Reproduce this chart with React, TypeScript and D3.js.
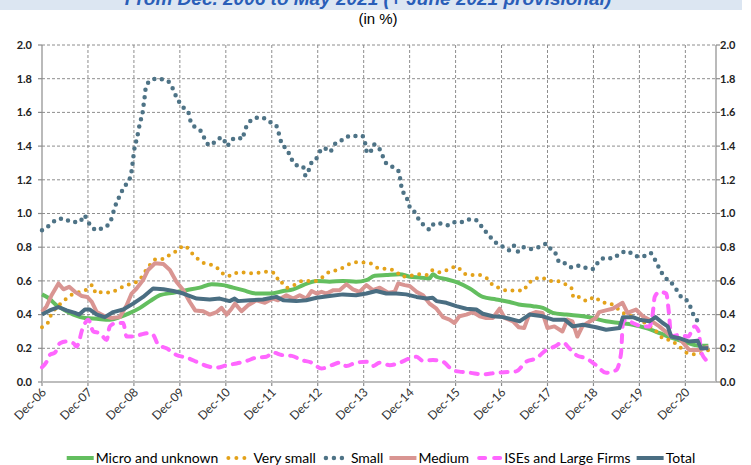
import React, { useEffect, useRef } from 'react';
import * as d3 from 'd3';

type Pt = [number, number]; // [months since Dec-06, rate in %]

const yearLabels = ['Dec-06', 'Dec-07', 'Dec-08', 'Dec-09', 'Dec-10', 'Dec-11', 'Dec-12', 'Dec-13', 'Dec-14', 'Dec-15', 'Dec-16', 'Dec-17', 'Dec-18', 'Dec-19', 'Dec-20'];
const yTicks = [0, 0.2, 0.4, 0.6, 0.8, 1.0, 1.2, 1.4, 1.6, 1.8, 2.0];

const microUnknown: Pt[] = [[0,0.52],[1.6,0.50],[3.8,0.455],[5.6,0.43],[8.2,0.40],[11.2,0.38],[14.3,0.375],[17.7,0.37],[20.3,0.385],[23,0.41],[25.6,0.44],[28.2,0.48],[30.8,0.515],[34.3,0.53],[37.7,0.545],[41.2,0.56],[44.3,0.58],[47.3,0.575],[49.9,0.56],[52.5,0.545],[56,0.525],[59.5,0.525],[63,0.54],[65.6,0.55],[68.2,0.575],[71.7,0.60],[75.1,0.595],[78.6,0.60],[82,0.595],[84.7,0.605],[86.9,0.63],[89.9,0.635],[93.4,0.64],[96,0.625],[98.6,0.62],[101.2,0.615],[102.1,0.64],[103,0.625],[105.6,0.61],[108.6,0.59],[111.7,0.555],[115.1,0.505],[118.6,0.49],[122.1,0.475],[124.5,0.46],[128.2,0.45],[130.8,0.44],[133.4,0.41],[136.9,0.40],[141.3,0.39],[143.8,0.38],[147.3,0.36],[150.8,0.35],[154.3,0.34],[157.8,0.32],[161.3,0.29],[164.7,0.26],[168.2,0.235],[171.7,0.215],[174,0.215]];

const verySmall: Pt[] = [[0,0.325],[1.5,0.35],[2.3,0.395],[3.7,0.44],[5.4,0.475],[7.1,0.51],[9.3,0.53],[11.4,0.545],[13.2,0.575],[14.1,0.525],[15.8,0.535],[17.9,0.53],[19.7,0.55],[22.1,0.575],[23.8,0.585],[25.6,0.61],[26.9,0.655],[28.2,0.695],[29.9,0.73],[31.7,0.73],[33.6,0.76],[35.4,0.78],[37.1,0.81],[38.9,0.77],[40.5,0.735],[42.3,0.705],[44.3,0.695],[46.4,0.665],[48,0.63],[49.4,0.63],[51.2,0.65],[53,0.65],[55.1,0.645],[57.2,0.65],[58.9,0.655],[61.1,0.64],[61.9,0.59],[62.6,0.59],[64,0.56],[66.3,0.58],[68,0.60],[69.5,0.60],[71.5,0.60],[73.4,0.625],[75.1,0.655],[77.3,0.665],[79.5,0.69],[81.4,0.71],[83.7,0.71],[85.7,0.705],[87.9,0.675],[90.1,0.67],[92.3,0.66],[94,0.625],[96,0.63],[98.3,0.64],[100.5,0.635],[102.1,0.665],[104.1,0.65],[106.3,0.67],[108.3,0.685],[110.1,0.645],[112.1,0.635],[114.1,0.635],[116.2,0.615],[117.7,0.575],[119.9,0.555],[121.7,0.54],[124,0.545],[125.6,0.54],[126.7,0.575],[128.2,0.605],[130.4,0.62],[132.3,0.60],[134.4,0.60],[136.2,0.585],[138.3,0.555],[138.8,0.50],[140.3,0.505],[142.3,0.48],[144.3,0.505],[146,0.475],[148.4,0.465],[150,0.44],[151.8,0.41],[154.5,0.385],[157.8,0.345],[160.4,0.30],[162.1,0.26],[164.3,0.245],[166.2,0.215],[168.2,0.175],[170.2,0.165],[172,0.17],[174,0.19]];

const small: Pt[] = [[0,0.90],[2,0.93],[3.6,0.96],[5.6,0.97],[7.7,0.95],[9.9,0.95],[11,0.99],[11.8,0.96],[13,0.92],[14.5,0.90],[15.7,0.915],[17.4,0.935],[18.3,0.98],[18.9,1.03],[19.8,1.08],[20.8,1.13],[22,1.175],[23.1,1.22],[23.5,1.27],[23.8,1.325],[24.1,1.38],[24.6,1.43],[25.1,1.48],[25.6,1.54],[26.2,1.59],[26.5,1.64],[26.8,1.69],[27.1,1.745],[28.4,1.79],[30.2,1.80],[32.3,1.79],[33.6,1.77],[34.5,1.72],[35.6,1.67],[36.9,1.63],[38.3,1.595],[38.9,1.54],[40.1,1.51],[41.8,1.48],[42.7,1.43],[44,1.405],[45.7,1.44],[47.3,1.45],[48.2,1.40],[49.7,1.44],[51.4,1.45],[52.3,1.44],[52.9,1.49],[53.9,1.535],[55.5,1.565],[57.4,1.57],[59.3,1.545],[61.2,1.52],[61.9,1.47],[62.6,1.415],[64,1.38],[65,1.33],[66.1,1.29],[68.2,1.275],[68.8,1.225],[69.4,1.235],[70,1.29],[71.5,1.32],[72.5,1.365],[73.6,1.39],[75.1,1.365],[76.4,1.41],[78,1.43],[79.5,1.455],[81.5,1.46],[83.7,1.46],[84.4,1.415],[84.9,1.36],[85.6,1.36],[86.6,1.41],[87.8,1.395],[88.8,1.35],[89.8,1.30],[91.6,1.275],[93.3,1.245],[93.6,1.19],[94.1,1.14],[95.2,1.095],[96,1.04],[97.4,1.005],[98.4,0.965],[100,0.925],[101.3,0.905],[102.4,0.94],[104,0.94],[106.1,0.93],[108,0.95],[110,0.95],[111.7,0.965],[113.4,0.96],[114.9,0.92],[116.3,0.88],[117.7,0.845],[119.5,0.81],[120.9,0.80],[122.3,0.78],[123.4,0.81],[124.3,0.775],[125.6,0.80],[127.6,0.79],[129.7,0.80],[131.8,0.82],[132.8,0.79],[134.3,0.755],[135.1,0.71],[136.5,0.705],[138.3,0.68],[140.3,0.69],[142.3,0.675],[144,0.67],[145.2,0.71],[146.9,0.735],[149.1,0.735],[151,0.765],[153,0.775],[154.6,0.75],[156.3,0.745],[157.8,0.75],[158.9,0.765],[160.2,0.72],[161.3,0.67],[162.5,0.625],[164.1,0.595],[165.6,0.55],[166.9,0.505],[168.7,0.475],[169.5,0.435],[170.4,0.385],[172.3,0.35]];

const medium: Pt[] = [[0,0.415],[1.2,0.45],[2.5,0.515],[4.3,0.585],[5.6,0.55],[7.1,0.565],[8.6,0.535],[10.4,0.51],[11.8,0.505],[13,0.475],[14.3,0.415],[16.4,0.39],[18.2,0.38],[20.3,0.385],[22.1,0.455],[23.4,0.525],[24.7,0.555],[26.4,0.605],[27.7,0.665],[29.5,0.705],[31.7,0.70],[33.4,0.665],[35.1,0.595],[36.9,0.545],[38.6,0.475],[40,0.425],[42.1,0.42],[43.8,0.40],[45.6,0.415],[46.9,0.44],[48.2,0.40],[49.5,0.435],[50.4,0.465],[52.1,0.42],[53.8,0.455],[56,0.485],[58.2,0.47],[60.3,0.495],[61.6,0.485],[63.8,0.515],[65.6,0.495],[67.3,0.515],[69,0.495],[70.4,0.54],[71.7,0.525],[73,0.535],[74.3,0.525],[76.1,0.545],[77.7,0.545],[79.5,0.58],[81.2,0.55],[82.9,0.535],[84.7,0.575],[86.4,0.545],[88.2,0.56],[90.4,0.53],[92.1,0.535],[93,0.585],[94.7,0.575],[96,0.57],[97.8,0.535],[99.5,0.515],[101.2,0.465],[103,0.435],[104.7,0.385],[106.4,0.37],[107.7,0.35],[109,0.39],[110.8,0.40],[112.5,0.415],[114.3,0.39],[116,0.38],[117.7,0.38],[119.5,0.435],[120.8,0.38],[123,0.36],[124.5,0.325],[125.9,0.32],[127.2,0.40],[128.9,0.415],[130.7,0.41],[132,0.32],[133.8,0.33],[135.9,0.30],[137.2,0.37],[138.5,0.36],[139.8,0.27],[141.1,0.33],[142.4,0.35],[144.6,0.38],[145.5,0.415],[147.2,0.425],[149,0.435],[151.6,0.47],[152.9,0.41],[155.1,0.43],[156.9,0.39],[158.6,0.37],[161.2,0.33],[163.8,0.28],[166.4,0.26],[169,0.19],[171.7,0.19],[174,0.21]];

const isesLarge: Pt[] = [[0,0.087],[1.2,0.12],[2,0.16],[3.4,0.175],[4.7,0.23],[6.4,0.24],[8.2,0.23],[9,0.21],[10.8,0.33],[12.1,0.37],[13.4,0.30],[15.1,0.29],[16.9,0.25],[17.7,0.33],[19.5,0.35],[21.2,0.35],[22.1,0.27],[23.8,0.27],[25.6,0.28],[27.7,0.29],[29,0.28],[30.4,0.22],[32.5,0.20],[35.1,0.16],[37.7,0.145],[40.4,0.12],[43,0.095],[45.6,0.085],[48.2,0.10],[50.8,0.11],[53.4,0.125],[56,0.145],[58.6,0.15],[60.3,0.175],[62.6,0.16],[65.2,0.155],[67.8,0.13],[70.4,0.115],[73,0.08],[75.7,0.10],[77.7,0.115],[79.5,0.095],[82,0.115],[84.7,0.12],[86.4,0.095],[88.2,0.115],[90.8,0.10],[93.4,0.115],[96,0.14],[97.8,0.15],[99.5,0.125],[102.1,0.13],[104.7,0.12],[107.3,0.07],[109.5,0.06],[111.7,0.055],[115.1,0.045],[118.6,0.055],[122.1,0.06],[123.8,0.063],[126.4,0.12],[129,0.14],[131.7,0.19],[133.8,0.21],[136,0.235],[137.7,0.20],[139.5,0.16],[142.1,0.14],[144.7,0.10],[147.3,0.055],[149.9,0.07],[151.2,0.17],[151.7,0.35],[152.5,0.37],[154.3,0.35],[156.9,0.33],[158.6,0.33],[159.5,0.41],[160,0.505],[161.3,0.535],[163,0.525],[163.7,0.41],[164.3,0.27],[166.4,0.28],[168.7,0.27],[170.4,0.33],[171.5,0.30],[172.1,0.18],[174,0.12]];

const total: Pt[] = [[0,0.40],[2,0.425],[4.3,0.445],[6.4,0.425],[8.6,0.41],[9.7,0.40],[11.2,0.43],[12.5,0.43],[14.3,0.40],[16.4,0.385],[18.6,0.415],[21.2,0.43],[23.8,0.465],[26.4,0.505],[29,0.555],[31.7,0.55],[34.3,0.54],[36.9,0.525],[40.4,0.495],[43.8,0.49],[46.4,0.495],[49,0.48],[50.3,0.495],[51.2,0.48],[54.3,0.485],[57.7,0.49],[61.2,0.505],[63,0.485],[66.4,0.48],[69,0.485],[71.7,0.50],[75.1,0.51],[78.6,0.52],[82,0.515],[84.7,0.525],[87.3,0.54],[89.9,0.525],[92.5,0.525],[95.1,0.52],[97.8,0.505],[100.4,0.495],[102,0.50],[103,0.48],[105.6,0.47],[108.2,0.45],[110.8,0.435],[113.4,0.43],[115.1,0.405],[117.7,0.39],[120.3,0.385],[123,0.37],[124.7,0.36],[127.3,0.40],[130.8,0.39],[133.4,0.37],[136.5,0.37],[138.6,0.33],[141.3,0.34],[144.7,0.325],[147.3,0.31],[150.8,0.32],[151.7,0.385],[154.3,0.385],[156,0.37],[158.6,0.36],[160.2,0.385],[162.1,0.35],[163.4,0.33],[164.3,0.27],[166.4,0.26],[169,0.24],[171.2,0.245],[172.1,0.20],[174,0.20]];

const series = [
  { name: 'Micro and unknown', data: microUnknown, color: '#63BE5F', width: 4, dash: null, cap: 'butt', smooth: true },
  { name: 'Very small', data: verySmall, color: '#E3A21A', width: 4, dash: '0 7.5', cap: 'round', smooth: true },
  { name: 'Small', data: small, color: '#4E7386', width: 4.5, dash: '0 7.5', cap: 'round', smooth: true },
  { name: 'Medium', data: medium, color: '#D99592', width: 4, dash: null, cap: 'butt', smooth: false },
  { name: 'ISEs and Large Firms', data: isesLarge, color: '#FF66FF', width: 4, dash: '7 8', cap: 'round', smooth: true },
  { name: 'Total', data: total, color: '#4A6E82', width: 4, dash: null, cap: 'butt', smooth: false },
];

const W = 751;
const H = 465;
const left = 42;
const right = 716;
const top = 45;
const bottom = 382;

export default function App() {
  const svgRef = useRef<SVGSVGElement>(null);

  useEffect(() => {
    const svg = d3.select(svgRef.current);
    svg.selectAll('*').remove();

    const x = d3.scaleLinear().domain([0, 176]).range([left, right]);
    const y = d3.scaleLinear().domain([0, 2]).range([bottom, top]);
    const font = 'Lato, "Open Sans", sans-serif';

    svg.append('rect').attr('width', W).attr('height', H).attr('fill', '#fff');

    // title band, its text cut off at the top as in the source
    svg.append('rect').attr('x', 0).attr('y', 0).attr('width', 742).attr('height', 10).attr('fill', '#DCE6F2');
    svg.append('text')
      .attr('x', 368).attr('y', 5)
      .attr('text-anchor', 'middle')
      .attr('font-family', '"Liberation Sans", Arial, sans-serif')
      .attr('font-size', 19).attr('font-weight', 'bold').attr('font-style', 'italic')
      .attr('fill', '#2A5EB8')
      .text('From Dec. 2006 to May 2021 (+ June 2021 provisional)');
    svg.append('text')
      .attr('x', 378).attr('y', 24)
      .attr('text-anchor', 'middle')
      .attr('font-family', '"Liberation Sans", Arial, sans-serif')
      .attr('font-size', 15).attr('fill', '#000')
      .text('(in %)');

    // grid
    const grid = svg.append('g').attr('stroke', '#8E8E8E').attr('stroke-width', 1).attr('stroke-dasharray', '3 2');
    yTicks.filter(t => t > 0).forEach(t => {
      grid.append('line').attr('x1', left).attr('x2', right).attr('y1', y(t)).attr('y2', y(t));
    });
    yearLabels.forEach((_, i) => {
      if (i === 0) return;
      grid.append('line').attr('x1', x(i * 12)).attr('x2', x(i * 12)).attr('y1', top).attr('y2', bottom);
    });

    // axes
    const ax = svg.append('g').attr('stroke', '#8C8C8C').attr('stroke-width', 1.2);
    ax.append('line').attr('x1', left).attr('x2', left).attr('y1', top).attr('y2', bottom);
    ax.append('line').attr('x1', right).attr('x2', right).attr('y1', top).attr('y2', bottom);
    yTicks.forEach(t => {
      ax.append('line').attr('x1', left - 4).attr('x2', left).attr('y1', y(t)).attr('y2', y(t));
      ax.append('line').attr('x1', right).attr('x2', right + 4).attr('y1', y(t)).attr('y2', y(t));
    });
    yearLabels.forEach((_, i) => {
      ax.append('line').attr('x1', x(i * 12)).attr('x2', x(i * 12)).attr('y1', bottom).attr('y2', bottom + 4);
    });
    svg.append('line').attr('x1', left).attr('x2', right).attr('y1', bottom).attr('y2', bottom)
      .attr('stroke', '#BDBDBD').attr('stroke-width', 2);

    // y labels, both sides
    yTicks.forEach(t => {
      svg.append('text').attr('x', 32).attr('y', y(t)).attr('dy', '0.35em')
        .attr('text-anchor', 'end').attr('font-family', font).attr('font-size', 11).attr('font-weight', 'bold')
        .attr('fill', '#222').text(t.toFixed(1));
      svg.append('text').attr('x', 720).attr('y', y(t)).attr('dy', '0.35em')
        .attr('text-anchor', 'start').attr('font-family', font).attr('font-size', 11).attr('font-weight', 'bold')
        .attr('fill', '#222').text(t.toFixed(1));
    });

    // x labels rotated
    yearLabels.forEach((lab, i) => {
      svg.append('text')
        .attr('transform', `translate(${x(i * 12) + 5},${bottom + 11}) rotate(-45)`)
        .attr('text-anchor', 'end').attr('font-family', font).attr('font-size', 12)
        .attr('fill', '#333').text(lab);
    });

    // series
    const plot = svg.append('g');
    series.forEach(s => {
      const line = d3.line<Pt>()
        .x(d => x(d[0]))
        .y(d => y(d[1]))
        .curve(s.smooth ? d3.curveMonotoneX : d3.curveLinear);
      const p = plot.append('path')
        .attr('d', line(s.data))
        .attr('fill', 'none')
        .attr('stroke', s.color)
        .attr('stroke-width', s.width)
        .attr('stroke-linecap', s.cap)
        .attr('stroke-linejoin', 'round');
      if (s.dash) p.attr('stroke-dasharray', s.dash);
    });

    // legend, centred
    const lg = svg.append('g');
    const ly = 458;
    let cx = 0;
    series.forEach(s => {
      const sym = lg.append('line')
        .attr('x1', cx).attr('x2', cx + 27).attr('y1', ly).attr('y2', ly)
        .attr('stroke', s.color).attr('stroke-width', s.width)
        .attr('stroke-linecap', s.cap);
      if (s.dash) sym.attr('stroke-dasharray', s.dash === '0 7.5' ? '0 8' : '6 9').attr('x1', cx + 4).attr('x2', cx + 26);
      const t = lg.append('text')
        .attr('x', cx + 29).attr('y', ly).attr('dy', '0.35em')
        .attr('font-family', font).attr('font-size', 14).attr('fill', '#000')
        .text(s.name);
      const tw = (t.node() as SVGTextElement).getComputedTextLength();
      cx += 29 + tw + 6;
    });
    const totalW = cx - 6;
    lg.attr('transform', `translate(${381 - totalW / 2},0)`);
  }, []);

  return (
    <svg ref={svgRef} width={W} height={H} style={{ position: 'absolute', left: 0, top: 0 }} />
  );
}
